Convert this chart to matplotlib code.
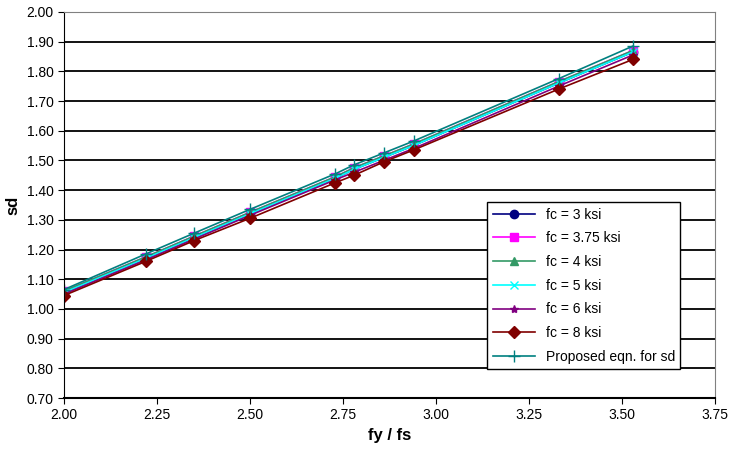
import matplotlib.pyplot as plt
from matplotlib.ticker import FormatStrFormatter

plt.rcParams['font.family'] = ['Liberation Sans Narrow', 'Liberation Sans', 'DejaVu Sans']

# fy / fs ratios
ratio = [2.00, 2.22, 2.35, 2.50, 2.73, 2.78, 2.86, 2.94, 3.33, 3.53]

# sd values
sd_fc3 = [1.055, 1.170, 1.240, 1.320, 1.440, 1.470, 1.510, 1.550, 1.760, 1.865]
sd_fc375 = [1.060, 1.175, 1.245, 1.325, 1.445, 1.475, 1.515, 1.555, 1.765, 1.870]
sd_fc4 = [1.060, 1.175, 1.245, 1.325, 1.445, 1.475, 1.515, 1.555, 1.765, 1.870]
sd_fc5 = [1.055, 1.170, 1.240, 1.320, 1.440, 1.470, 1.510, 1.550, 1.760, 1.865]
sd_fc6 = [1.050, 1.165, 1.235, 1.315, 1.435, 1.460, 1.500, 1.540, 1.750, 1.855]
sd_fc8 = [1.045, 1.160, 1.230, 1.305, 1.425, 1.450, 1.495, 1.535, 1.740, 1.840]
sd_prop = [1.065, 1.185, 1.255, 1.335, 1.455, 1.485, 1.525, 1.565, 1.775, 1.885]

series = [
    ('fc = 3 ksi', sd_fc3, '#000080', 'o', 6),
    ('fc = 3.75 ksi', sd_fc375, '#ff00ff', 's', 6),
    ('fc = 4 ksi', sd_fc4, '#339966', '^', 6),
    ('fc = 5 ksi', sd_fc5, '#00ffff', 'x', 6),
    ('fc = 6 ksi', sd_fc6, '#800080', '*', 6),
    ('fc = 8 ksi', sd_fc8, '#800000', 'D', 6),
    ('Proposed eqn. for sd', sd_prop, '#008080', '+', 9),
]

fig = plt.figure(figsize=(7.32, 4.58), dpi=100)
ax = fig.add_axes([0.0874, 0.131, 0.889, 0.843])

for label, vals, col, mk, ms in series:
    ax.plot(ratio, vals, color=col, marker=mk, markersize=ms, linewidth=1.2, label=label)

ax.set_xlim(2.0, 3.75)
ax.set_ylim(0.70, 2.00)
ax.set_xticks([2.0 + 0.25 * i for i in range(8)])
ax.set_yticks([0.7 + 0.1 * i for i in range(14)])
ax.xaxis.set_major_formatter(FormatStrFormatter('%.2f'))
ax.yaxis.set_major_formatter(FormatStrFormatter('%.2f'))
ax.tick_params(labelsize=10, direction='out', length=4, color='black')
ax.grid(axis='y', color='black', linewidth=1.3)
ax.set_axisbelow(True)

ax.spines['left'].set_color('black')
ax.spines['bottom'].set_color('black')
ax.spines['bottom'].set_linewidth(1.5)
ax.spines['top'].set_color('#808080')
ax.spines['right'].set_color('#808080')

ax.set_xlabel('fy / fs', fontsize=12, fontweight='bold')
ax.set_ylabel('sd', fontsize=12, fontweight='bold')

leg = ax.legend(loc='lower right', bbox_to_anchor=(0.958, 0.056), fontsize=10,
                frameon=True, fancybox=False, edgecolor='black', framealpha=1,
                borderpad=0.4, labelspacing=0.7, handlelength=3.0)
leg.get_frame().set_linewidth(1.0)

fig.savefig('out.png', dpi=100)
